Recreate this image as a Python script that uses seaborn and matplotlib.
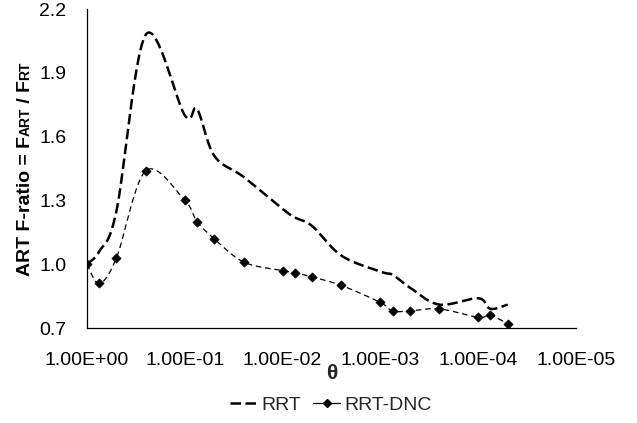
import numpy as np
import pandas as pd
import matplotlib
matplotlib.use("Agg")
import matplotlib.pyplot as plt
from matplotlib.lines import Line2D
from matplotlib.ticker import FixedLocator, NullLocator, FuncFormatter
from matplotlib.transforms import IdentityTransform
import seaborn as sns

# ---- data ----
theta = [1.0, 0.75, 0.5, 0.25, 0.1, 0.075, 0.05, 0.025, 0.01, 0.0075, 0.005,
         0.0025, 0.001, 0.00075, 0.0005, 0.00025, 0.0001, 0.000075, 0.00005]
rrt = [1.00, 1.06, 1.25, 2.08, 1.70, 1.73, 1.51, 1.41, 1.26, 1.22, 1.18,
       1.04, 0.965, 0.95, 0.89, 0.81, 0.84, 0.79, 0.81]
rrt_dnc = [1.00, 0.91, 1.03, 1.44, 1.30, 1.20, 1.12, 1.01, 0.97, 0.96, 0.94,
           0.90, 0.82, 0.78, 0.78, 0.79, 0.75, 0.76, 0.72]
series_names = ["RRT", "RRT-DNC"]
x_ticks = [1e0, 1e-1, 1e-2, 1e-3, 1e-4, 1e-5]
x_tick_labels = ["1.00E+00", "1.00E-01", "1.00E-02", "1.00E-03", "1.00E-04", "1.00E-05"]
y_ticks = [0.7, 1.0, 1.3, 1.6, 1.9, 2.2]


def smooth(xs, ys, n=40):
    """Excel-like smoothed line (Catmull-Rom Bezier) in log-x space."""
    u = np.log10(np.asarray(xs, float))
    v = np.asarray(ys, float)
    P = np.column_stack([u, v])
    P = np.vstack([P[0], P, P[-1]])
    out = []
    for i in range(1, len(P) - 2):
        p0, p1, p2, p3 = P[i - 1], P[i], P[i + 1], P[i + 2]
        b1 = p1 + (p2 - p0) / 6.0
        b2 = p2 - (p3 - p1) / 6.0
        t = np.linspace(0, 1, n, endpoint=(i == len(P) - 3))[:, None]
        seg = ((1 - t) ** 3) * p1 + 3 * ((1 - t) ** 2) * t * b1 + 3 * (1 - t) * t ** 2 * b2 + t ** 3 * p2
        out.append(seg)
    out = np.vstack(out)
    return 10 ** out[:, 0], out[:, 1]


sns.set_theme(style="white")
plt.rcParams["font.family"] = ["Liberation Sans", "DejaVu Sans"]

W, H = 637, 423
fig = plt.figure(figsize=(W / 100, H / 100), dpi=100)
ax = fig.add_axes([87 / W, 1 - 328 / H, (576 - 87) / W, (328 - 9) / H])

sx1, sy1 = smooth(theta, rrt)
sx2, sy2 = smooth(theta, rrt_dnc)
df1 = pd.DataFrame({"theta": sx1, "ratio": sy1, "series": series_names[0]})
df2 = pd.DataFrame({"theta": sx2, "ratio": sy2, "series": series_names[1]})
df_pts = pd.DataFrame({"theta": theta, "ratio": rrt_dnc})

sns.lineplot(data=df1, x="theta", y="ratio", ax=ax, sort=False, estimator=None,
             color="black", linewidth=1.8, legend=False)
ax.lines[-1].set_dashes((4.2, 1.8))
sns.lineplot(data=df2, x="theta", y="ratio", ax=ax, sort=False, estimator=None,
             color="black", linewidth=0.9, legend=False)
ax.lines[-1].set_dashes((4.5, 3.0))
sns.scatterplot(data=df_pts, x="theta", y="ratio", ax=ax, marker="D", s=22,
                color="black", edgecolor="black", linewidth=0.5, legend=False, zorder=5)

ax.set_xscale("log")
ax.set_xlim(1e0, 1e-5)
ax.set_ylim(0.7, 2.2)
ax.xaxis.set_major_locator(FixedLocator(x_ticks))
ax.xaxis.set_minor_locator(NullLocator())
ax.set_xticklabels(x_tick_labels)
ax.set_yticks(y_ticks)
ax.yaxis.set_major_formatter(FuncFormatter(lambda v, p: f"{v:.1f}"))

for s in ["top", "right"]:
    ax.spines[s].set_visible(False)
for s in ["left", "bottom"]:
    ax.spines[s].set_color("black")
    ax.spines[s].set_linewidth(0.9)
ax.tick_params(axis="both", which="major", direction="out", length=5, width=0.9,
               color="black", labelsize=14, labelcolor="black")
ax.tick_params(axis="x", pad=12)
ax.tick_params(axis="y", pad=10)
ax.grid(False)

ax.set_xlabel("θ", fontsize=15, fontweight="bold", labelpad=-3)
ax.set_ylabel("")

# legend
h1 = Line2D([], [], color="black", linewidth=1.8, dashes=(4.2, 1.8))
h2 = Line2D([], [], color="black", linewidth=0.9, marker="D", markersize=4.5)
fig.legend([h1, h2], series_names, loc="center", bbox_to_anchor=(331 / W, 1 - 405 / H),
           ncol=2, frameon=False, fontsize=14, handlelength=1.4, handletextpad=0.2,
           columnspacing=0.6, borderaxespad=0)

# y label with reduced-size capitals for subscripts
renderer = fig.canvas.get_renderer()
pieces = [("ART F-ratio = F", 14), ("ART", 10), (" / F", 14), ("RT", 10)]
widths = []
for s, sz in pieces:
    t = fig.text(0, 0, s, fontsize=sz, fontweight="bold")
    widths.append(t.get_window_extent(renderer).width)
    t.remove()
total = sum(widths)
ycen = H - (9 + 328) / 2
ypos = ycen - total / 2
xbase = 29.5
for (s, sz), w in zip(pieces, widths):
    fig.text(xbase, ypos, s, fontsize=sz, fontweight="bold", rotation=90,
             rotation_mode="anchor", ha="left", va="baseline",
             transform=IdentityTransform(), color="black")
    ypos += w

fig.savefig("out.png", dpi=100)
